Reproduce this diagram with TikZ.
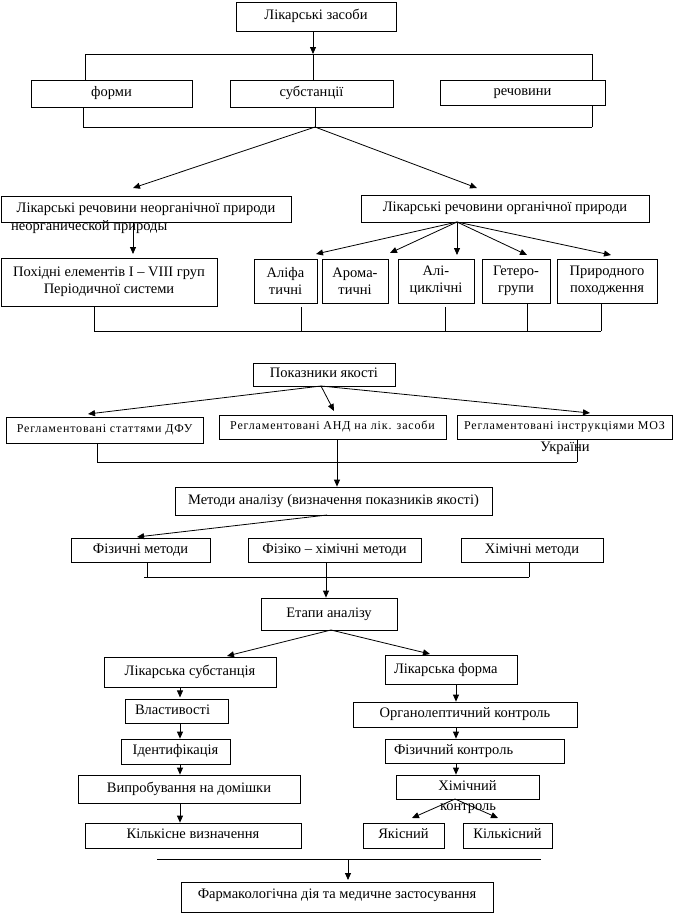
\documentclass[tikz,border=0pt]{standalone}
\usepackage{fontspec}
\setmainfont{Liberation Serif}
\newfontfamily\spacedserif[LetterSpace=7]{Liberation Serif}
\usetikzlibrary{arrows.meta}
\begin{document}
\begin{tikzpicture}[x=1pt,y=-1pt,
  box/.style={draw, line width=0.8pt, inner sep=0pt, align=center, font=\fontsize{14.5}{17}\selectfont},
  one/.style={box, align=none, text height=9pt, text depth=3pt},
  sbox/.style={one, font=\spacedserif\fontsize{12}{14}\selectfont, text height=8pt, text depth=2.5pt},
  lbl/.style={inner sep=0pt, font=\fontsize{14.5}{17}\selectfont},
  ln/.style={line width=0.8pt},
  arr/.style={line width=0.8pt, -{Triangle[length=7pt,width=6pt]}}]
\useasboundingbox[fill=white] (0,0) rectangle (674,914);

% ---------- section 1
\node[one, minimum width=160pt, minimum height=29pt] (top) at (316,16.5) {Лікарські засоби};
\node[one, minimum width=161pt, minimum height=27pt] (forms) at (111.5,93.5) {форми};
\node[one, minimum width=163pt, minimum height=27pt] (subst) at (311.5,93.5) {субстанції};
\node[one, minimum width=165pt, minimum height=25pt] (rech) at (522.5,92.5) {речовини};

\coordinate (b1m) at (313,54);
\coordinate (b1l) at (85,54);
\coordinate (b1r) at (592,54);
\draw[arr] (top.south -| b1m) -- (b1m);
\draw[ln] (b1l) -- (b1r);
\draw[ln] (b1l) -- (b1l |- forms.north);
\draw[ln] (b1r) -- (b1r |- rech.north);
\draw[ln] (b1m) -- (b1m |- subst.north);

\coordinate (b2m) at (315,127);
\coordinate (b2l) at (83,127);
\coordinate (b2r) at (592,127);
\draw[ln] (b2l) -- (b2r);
\draw[ln] (b2l) -- (b2l |- forms.south);
\draw[ln] (b2m) -- (b2m |- subst.south);
\draw[ln] (b2r) -- (b2r |- rech.south);

\node[one, minimum width=290pt, minimum height=26pt] (inorg) at (146,209) {Лікарські речовини неорганічної природи};
\node[lbl, anchor=west] (inorgru) at (11,227) {неорганической природы};
\node[one, minimum width=288pt, minimum height=27pt] (org) at (505,208.5) {Лікарські речовини органічної природи};
\coordinate (t1) at (133,188);
\coordinate (t2) at (477,188);
\draw[arr] (b2m) -- (t1);
\draw[arr] (b2m) -- (t2);

\node[box, minimum width=216pt, minimum height=48pt] (pokh) at (109,282) {Похідні елементів I – VIII груп\\Періодичної системи};
\coordinate (t3) at (133,254);
\draw[arr] (inorg.south -| t3) -- (t3);

\node[box, minimum width=63pt, minimum height=44pt] (alifa) at (285.5,281) {Аліфа\\тичні};
\node[box, minimum width=66pt, minimum height=44pt] (aroma) at (355,281) {Арома-\\тичні};
\node[box, minimum width=76pt, minimum height=44pt] (ali) at (436,281) {Алі-\\циклічні};
\node[box, minimum width=68pt, minimum height=44pt] (getero) at (516,281) {Гетеро-\\групи};
\node[box, minimum width=100pt, minimum height=44pt] (pryr) at (607,281) {Природного\\походження};

\coordinate (o) at (457,222);
\coordinate (a1) at (316,254);
\coordinate (a2) at (390,253);
\coordinate (a3) at (457,255);
\coordinate (a4) at (527,255);
\coordinate (a5) at (611,255);
\foreach \t in {a1,a2,a3,a4,a5} \draw[arr] (o) -- (\t);

\coordinate (b3l) at (94,331);
\coordinate (b3r) at (601,331);
\draw[ln] (b3l) -- (b3r);
\draw[ln] (b3l) -- (b3l |- pokh.south);
\draw[ln] (301,331) -- (301,307);
\draw[ln] (445,331) -- (445,307);
\draw[ln] (527,331) -- (527 ,303);
\draw[ln] (b3r) -- (b3r |- pryr.south);

% ---------- section 2
\node[one, minimum width=142pt, minimum height=23pt] (pok) at (324,374.5) {Показники якості};
\node[sbox, minimum width=197pt, minimum height=26pt] (ra) at (104.5,430) {Регламентовані статтями ДФУ};
\node[sbox, minimum width=227pt, minimum height=24pt] (rb) at (332.5,427) {Регламентовані АНД на лік. засоби};
\node[sbox, minimum width=215pt, minimum height=24pt] (rc) at (564.5,427) {Регламентовані інструкціями МОЗ};
\node[lbl] (ukr) at (565,448) {України};
\coordinate (p0) at (321,386);
\coordinate (p1) at (88,414);
\coordinate (p2) at (334,411);
\coordinate (p3) at (590,413);
\draw[arr] (p0) -- (p1);
\draw[arr] (p0) -- (p2);
\draw[arr] (p0) -- (p3);

\coordinate (b4l) at (97,462);
\coordinate (b4r) at (577,462);
\draw[ln] (b4l) -- (b4r);
\draw[ln] (b4l) -- (b4l |- ra.south);
\draw[ln] (b4r) -- (b4r |- rc.south);

\node[one, minimum width=317pt, minimum height=28pt] (met) at (333.5,501) {Методи аналізу (визначення показників якості)};
\coordinate (m0) at (337,439);
\draw[arr] (m0) -- (m0 |- met.north);

\node[one, minimum width=139pt, minimum height=24pt] (fiz) at (140.5,550) {Фізичні методи};
\node[one, minimum width=173pt, minimum height=24pt] (fizkh) at (334.5,550) {Фізіко – хімічні методи};
\node[one, minimum width=142pt, minimum height=24pt] (khim) at (532,550) {Хімічні методи};
\coordinate (mo) at (327,515);
\coordinate (f1) at (137,537);
\draw[arr] (mo) -- (f1);

\coordinate (b5l) at (144,577);
\coordinate (b5r) at (529,577);
\draw[ln] (b5l) -- (b5r);
\draw[ln] (147,577) -- (147,562);
\draw[ln] (b5r) -- (b5r |- khim.south);

\node[one, minimum width=136pt, minimum height=32pt] (etap) at (329,614) {Етапи аналізу};
\coordinate (e0) at (326,562);
\draw[arr] (e0) -- (e0 |- etap.north);

% ---------- section 3
\node[one, minimum width=172pt, minimum height=30pt] (ls) at (190,672) {Лікарська субстанція};
\node[one, minimum width=132pt, minimum height=29pt, text height=10pt, text depth=2pt] (lf) at (451,669.5) {\makebox[114pt][l]{Лікарська форма}};
\coordinate (eo) at (331,630);
\coordinate (l1) at (227,656);
\coordinate (l2) at (430,654);
\draw[arr] (eo) -- (l1);
\draw[arr] (eo) -- (l2);

\node[one, minimum width=103pt, minimum height=24pt] (vlast) at (176.5,711) {\makebox[83pt][l]{Властивості}};
\node[one, minimum width=109pt, minimum height=25pt] (ident) at (175.5,751.5) {Ідентифікація};
\node[one, minimum width=222pt, minimum height=28pt] (vypr) at (189,789) {Випробування на домішки};
\node[one, minimum width=216pt, minimum height=25pt] (kilk) at (193,835.5) {Кількісне визначення};

\coordinate (cl) at (180,0);
\draw[arr] (ls.south -| cl) -- ++(0,10);
\draw[arr] (vlast.south -| cl) -- (ident.north -| cl);
\draw[arr] (ident.south -| cl) -- (vypr.north -| cl);
\draw[arr] (vypr.south -| cl) -- (kilk.north -| cl);

\node[one, minimum width=224pt, minimum height=25pt] (organ) at (465,714.5) {Органолептичний контроль};
\node[one, minimum width=179pt, minimum height=24pt] (fizk) at (474.5,751) {\makebox[161pt][l]{Фізичний контроль}};
\node[one, minimum width=143pt, minimum height=24pt] (khk) at (467.5,787) {Хімічний};
\node[lbl] (kontr) at (468,809) {контроль};

\coordinate (cr) at (456,0);
\draw[arr] (lf.south -| cr) -- (organ.north -| cr);
\draw[arr] (organ.south -| cr) -- (fizk.north -| cr);
\draw[arr] (fizk.south -| cr) -- (khk.north -| cr);

\node[one, minimum width=81pt, minimum height=25pt] (yak) at (403.5,835.5) {Якісний};
\node[one, minimum width=89pt, minimum height=25pt] (kk) at (507.5,835.5) {Кількісний};
\coordinate (k0) at (455,799);
\coordinate (k1) at (412,818);
\coordinate (k2) at (498,818);
\draw[arr] (k0) -- (k1);
\draw[arr] (k0) -- (k2);

\coordinate (hl) at (157,859);
\coordinate (hr) at (541,859);
\coordinate (hm) at (348,859);
\draw[ln] (hl) -- (hr);
\node[one, minimum width=312pt, minimum height=30pt, text height=7pt, text depth=5pt] (farm) at (337,897.5) {Фармакологічна дія та медичне застосування};
\coordinate (fm) at (348,880);
\draw[arr] (hm) -- (fm);
\end{tikzpicture}
\end{document}
